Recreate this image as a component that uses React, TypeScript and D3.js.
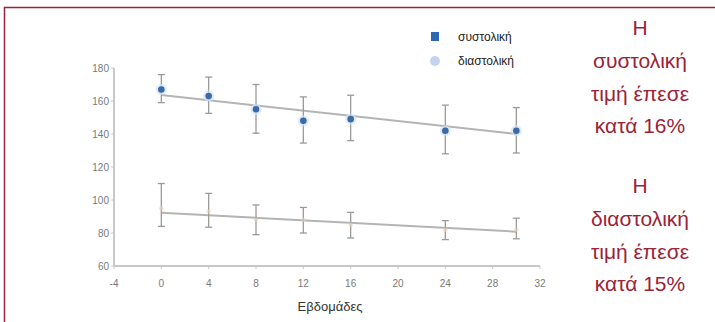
import React from "react";
import * as d3 from "d3";

const weeks = [0, 4, 8, 12, 16, 24, 30];
const sysMean = [167, 163, 155, 148, 149, 142, 142];
const sysHigh = [176, 174.5, 170, 162.5, 163.5, 157.5, 156];
const sysLow = [159, 152.5, 140.5, 134.5, 136, 128, 128.5];
const diaMean = [95, 93, 88, 88, 85, 82, 82];
const diaHigh = [110, 104, 97, 95.5, 92.5, 87.5, 89];
const diaLow = [84, 83.5, 79, 80, 77, 76, 76.5];
const sysTrend = [163.6, 140];
const diaTrend = [92.3, 80.8];
const trendWeeks = [0, 30];
const xTicks = [-4, 0, 4, 8, 12, 16, 20, 24, 28, 32];
const yTicks = [60, 80, 100, 120, 140, 160, 180];
const legendLabels = ["συστολική", "διαστολική"];
const noteLines = [
  "Η",
  "συστολική",
  "τιμή έπεσε",
  "κατά 16%",
  "Η",
  "διαστολική",
  "τιμή έπεσε",
  "κατά 15%",
];
const xLabel = "Εβδομάδες";

export default function App() {
  const W = 715;
  const H = 322;
  const x = d3.scaleLinear().domain([-4, 32]).range([114, 540]);
  const y = d3.scaleLinear().domain([60, 180]).range([266, 68]);
  const line = d3
    .line<[number, number]>()
    .x((d) => x(d[0]))
    .y((d) => y(d[1]));
  const red = "#9b2338";
  const font = "Liberation Sans, Arial, sans-serif";
  const noteBaselines = [35, 68, 101, 133, 193, 226, 259, 291];

  const errorBars = (hi: number[], lo: number[], key: string) =>
    weeks.map((w, i) => (
      <g key={key + i} stroke="#9a9a9a" strokeWidth={1.3}>
        <line x1={x(w)} x2={x(w)} y1={y(hi[i])} y2={y(lo[i])} />
        <line x1={x(w) - 3.5} x2={x(w) + 3.5} y1={y(hi[i])} y2={y(hi[i])} />
        <line x1={x(w) - 3.5} x2={x(w) + 3.5} y1={y(lo[i])} y2={y(lo[i])} />
      </g>
    ));

  return (
    <svg
      width={W}
      height={H}
      style={{ position: "absolute", left: 0, top: 0, background: "#fff" }}
      fontFamily={font}
    >
      <rect x={0} y={0} width={W} height={H} fill="#fff" />
      {/* frame */}
      <line x1={4.5} x2={4.5} y1={7} y2={H} stroke={red} strokeWidth={1.5} />
      <line x1={4} x2={W} y1={7.5} y2={7.5} stroke={red} strokeWidth={1.5} />

      {/* axes */}
      <line x1={x(-4)} x2={x(32)} y1={y(60)} y2={y(60)} stroke="#c8c8c8" strokeWidth={2} />
      <line x1={x(-4)} x2={x(-4)} y1={y(60)} y2={y(180)} stroke="#c8c8c8" strokeWidth={2} />
      {xTicks.map((t) => (
        <g key={"xt" + t}>
          <line x1={x(t)} x2={x(t)} y1={y(60)} y2={y(60) + 3} stroke="#c8c8c8" strokeWidth={1} />
          <text
            x={x(t)}
            y={y(60) + 21}
            textAnchor="middle"
            fontSize={10}
            fill="#7a7a7a"
          >
            {t}
          </text>
        </g>
      ))}
      {yTicks.map((t) => (
        <g key={"yt" + t}>
          <line x1={x(-4) - 3} x2={x(-4)} y1={y(t)} y2={y(t)} stroke="#c8c8c8" strokeWidth={1} />
          <text
            x={x(-4) - 5}
            y={y(t) + 3.5}
            textAnchor="end"
            fontSize={10}
            fill="#7a7a7a"
          >
            {t}
          </text>
        </g>
      ))}
      <text x={330} y={311} textAnchor="middle" fontSize={13} fill="#333">
        {xLabel}
      </text>

      {/* trend lines */}
      <path
        d={line(trendWeeks.map((w, i) => [w, sysTrend[i]]) as [number, number][]) || ""}
        stroke="#b4b4b4"
        strokeWidth={2}
        fill="none"
      />
      <path
        d={line(trendWeeks.map((w, i) => [w, diaTrend[i]]) as [number, number][]) || ""}
        stroke="#b4b4b4"
        strokeWidth={2}
        fill="none"
      />

      {errorBars(sysHigh, sysLow, "s")}
      {errorBars(diaHigh, diaLow, "d")}

      {/* markers */}
      {weeks.map((w, i) => (
        <g key={"sm" + i}>
          <circle cx={x(w)} cy={y(sysMean[i])} r={5.5} fill="#d3e2f4" opacity={0.7} />
          <circle cx={x(w)} cy={y(sysMean[i])} r={3.3} fill="#3a6aa8" />
        </g>
      ))}
      {weeks.map((w, i) => (
        <circle key={"dm" + i} cx={x(w)} cy={y(diaMean[i])} r={2.2} fill="#ecd2b6" opacity={0.6} />
      ))}

      {/* legend */}
      <rect x={431} y={32} width={8} height={9} fill="#2c69b4" />
      <text x={458} y={41} fontSize={12} fill="#222">
        {legendLabels[0]}
      </text>
      <circle cx={435} cy={61} r={5} fill="#c3d5ee" />
      <text x={458} y={65} fontSize={12} fill="#222">
        {legendLabels[1]}
      </text>

      {/* notes */}
      {noteLines.map((t, i) => (
        <text
          key={"n" + i}
          x={640}
          y={noteBaselines[i]}
          textAnchor="middle"
          fontSize={21}
          fill={red}
        >
          {t}
        </text>
      ))}
    </svg>
  );
}
